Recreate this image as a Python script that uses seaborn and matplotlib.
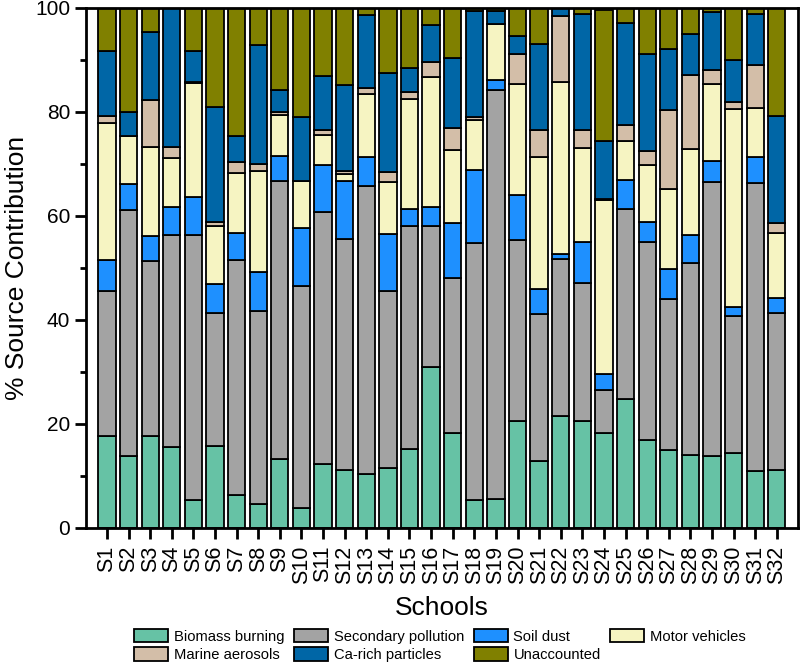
import numpy as np
import pandas as pd
import matplotlib
matplotlib.use("Agg")
import matplotlib.pyplot as plt
from matplotlib.patches import Patch
from matplotlib.ticker import MultipleLocator
import seaborn as sns

# --- data (percent contribution per school) ---
schools = [f"S{i}" for i in range(1, 33)]

biomass = [17.7, 13.8, 17.7, 15.5, 5.4, 15.8, 6.3, 4.6, 13.3, 3.8, 12.2, 11.2, 10.4, 11.5, 15.1, 30.9,
           18.3, 5.4, 5.6, 20.5, 12.9, 21.5, 20.6, 18.3, 24.8, 16.9, 14.9, 14.1, 13.8, 14.4, 10.9, 11.2]
secondary = [27.9, 47.3, 33.7, 40.8, 51.0, 25.6, 45.2, 37.1, 53.5, 42.8, 48.6, 44.4, 55.4, 34.1, 43.0, 27.2,
             29.8, 49.4, 78.6, 34.8, 28.3, 30.3, 26.5, 8.2, 36.5, 38.1, 29.1, 36.8, 52.8, 26.4, 55.4, 30.1]
soil_dust = [5.9, 5.1, 4.7, 5.4, 7.3, 5.5, 5.3, 7.6, 4.7, 11.0, 9.0, 11.2, 5.5, 10.9, 3.2, 3.7,
             10.5, 14.0, 2.0, 8.7, 4.8, 0.8, 7.9, 3.1, 5.6, 3.9, 5.7, 5.5, 3.9, 1.6, 5.0, 2.9]
motor = [26.4, 9.2, 17.2, 9.4, 21.9, 11.2, 11.5, 19.4, 7.9, 9.1, 5.8, 1.2, 12.1, 10.0, 21.2, 24.9,
         14.1, 9.7, 10.7, 21.4, 25.3, 33.2, 18.0, 33.4, 7.5, 10.9, 15.5, 16.4, 14.9, 38.2, 9.5, 12.5]
marine = [1.4, 0.0, 9.0, 2.1, 0.2, 0.7, 2.0, 1.3, 0.5, 0.0, 0.9, 0.7, 1.2, 1.9, 1.3, 2.9,
          4.3, 0.6, 0.0, 5.8, 5.2, 12.7, 3.6, 0.3, 3.0, 2.7, 15.2, 14.4, 2.7, 1.4, 8.2, 1.9]
ca_rich = [12.4, 4.5, 13.0, 26.8, 5.9, 22.2, 5.0, 22.9, 4.3, 12.3, 10.4, 16.4, 14.1, 19.0, 4.7, 7.1,
           13.3, 20.3, 2.5, 3.4, 16.6, 1.5, 22.2, 11.2, 19.7, 18.6, 11.8, 7.7, 11.1, 8.0, 9.8, 20.7]
unaccounted = [8.3, 20.1, 4.7, 0.0, 8.4, 19.0, 24.7, 7.1, 15.8, 21.0, 13.1, 14.9, 1.3, 12.6, 11.5, 3.3,
               9.7, 0.6, 0.6, 5.4, 6.9, 0.0, 1.2, 25.2, 2.9, 8.9, 7.8, 5.1, 0.8, 10.0, 1.2, 20.7]

sources = ["Biomass burning", "Secondary pollution", "Soil dust", "Motor vehicles",
           "Marine aerosols", "Ca-rich particles", "Unaccounted"]
colors = ["#66C2A5", "#A3A3A3", "#1E90FF", "#F6F4C2", "#D3BEA8", "#0066A6", "#808000"]

df = pd.DataFrame({"School": schools,
                   "Biomass burning": biomass,
                   "Secondary pollution": secondary,
                   "Soil dust": soil_dust,
                   "Motor vehicles": motor,
                   "Marine aerosols": marine,
                   "Ca-rich particles": ca_rich,
                   "Unaccounted": unaccounted})

sns.set_style("ticks")
plt.rcParams['font.family'] = ['Liberation Sans', 'DejaVu Sans']
plt.rcParams['text.color'] = 'black'
plt.rcParams['axes.labelcolor'] = 'black'
plt.rcParams['xtick.color'] = 'black'
plt.rcParams['ytick.color'] = 'black'

fig = plt.figure(figsize=(8, 6.64), dpi=100)
ax = fig.add_axes([0.1075, 0.205, 0.89, 0.783])

bottom = np.zeros(len(schools))
for src, col in zip(sources, colors):
    sns.barplot(data=df, x="School", y=src, color=col, bottom=bottom, width=0.8,
                edgecolor="black", linewidth=1.3, ax=ax, saturation=1)
    bottom = bottom + df[src].values

ax.set_xlim(-0.97, 31.98)
ax.set_ylim(0, 100)
ax.yaxis.set_major_locator(MultipleLocator(20))
ax.yaxis.set_minor_locator(MultipleLocator(10))
ax.tick_params(axis="y", which="major", labelsize=15, direction="out", length=8, width=2)
ax.tick_params(axis="y", which="minor", direction="out", length=4, width=2)
ax.tick_params(axis="x", labelsize=15.5, direction="out", length=8, width=2, rotation=90, pad=5)
for s in ax.spines.values():
    s.set_linewidth(2)
    s.set_color("black")

ax.set_xlabel("Schools", fontsize=19, labelpad=8)
ax.set_ylabel("% Source Contribution", fontsize=19)

# legend filled row by row like the original (matplotlib fills columns first)
order = [0, 4, 1, 5, 2, 6, 3]
handles = [Patch(facecolor=colors[i], edgecolor="black", linewidth=1.3, label=sources[i]) for i in order]
fig.legend(handles=handles, loc="center", bbox_to_anchor=(0.55, 0.028), ncol=4, frameon=False,
           fontsize=10.6, handlelength=2.3, handleheight=1.05, columnspacing=0.65, handletextpad=0.4,
           labelspacing=0.25)

fig.savefig("out.png", dpi=100)
